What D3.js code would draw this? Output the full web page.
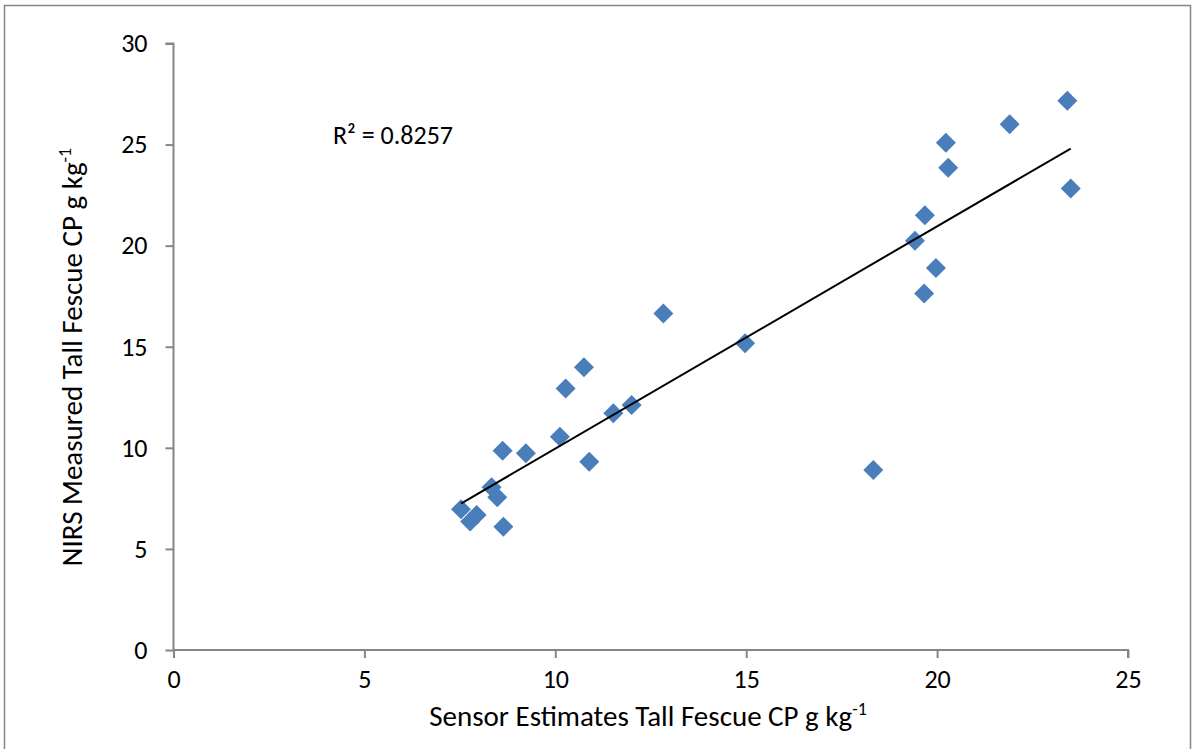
<!DOCTYPE html>
<html>
<head>
<meta charset="utf-8">
<script src="https://cdn.jsdelivr.net/npm/d3@7"></script>
<style>
  body { margin: 0; background: #fff; }
  text { font-family: Carlito, Calibri, "Liberation Sans", sans-serif; fill: #000; }
</style>
</head>
<body>
<svg width="1193" height="749"></svg>
<script>
// sensor estimates (x) and NIRS measured (y), g kg-1
var sensorCP = [7.53, 7.94, 7.77, 8.33, 8.48, 8.64, 8.62, 9.23, 10.12, 10.89, 10.27, 10.75, 11.52, 12.00,
	12.83, 14.97, 18.33, 19.42, 19.68, 19.66, 19.97, 20.23, 20.29, 21.90, 23.41, 23.50];
var nirsCP = [6.96, 6.68, 6.35, 8.05, 7.55, 6.10, 9.86, 9.73, 10.55, 9.31, 12.94, 13.98, 11.71, 12.12,
	16.65, 15.17, 8.90, 20.24, 21.50, 17.64, 18.89, 25.09, 23.85, 26.01, 27.17, 22.83];
var xTicks = [0, 5, 10, 15, 20, 25];
var yTicks = [0, 5, 10, 15, 20, 25, 30];
var r2Label = "R\u00B2 = 0.8257";

var svg = d3.select("svg"),
	width = +svg.attr("width"),
	height = +svg.attr("height");

var margin = {left: 173.5, right: 1128, top: 43.5, bottom: 650};

var x = d3.scaleLinear().domain([0, 25]).range([margin.left, margin.right]);
var y = d3.scaleLinear().domain([0, 30]).range([margin.bottom, margin.top]);

// outer frame
svg.append("rect")
	.attr("x", 4.5).attr("y", 5.5)
	.attr("width", 1186).attr("height", 760)
	.attr("fill", "none")
	.attr("stroke", "#868686")
	.attr("stroke-width", 1.5);

var axisColor = "#868686";

var xAxis = svg.append("g")
	.attr("transform", "translate(0," + margin.bottom + ")")
	.call(d3.axisBottom(x).tickValues(xTicks).tickSize(8).tickPadding(12).tickFormat(d3.format("d")));

var yAxis = svg.append("g")
	.attr("transform", "translate(" + margin.left + ",0)")
	.call(d3.axisLeft(y).tickValues(yTicks).tickSize(8).tickPadding(18).tickFormat(d3.format("d")));

[xAxis, yAxis].forEach(function (g) {
	g.select(".domain").attr("stroke", axisColor).attr("stroke-width", 2);
	g.selectAll(".tick line").attr("stroke", axisColor).attr("stroke-width", 2);
	g.selectAll(".tick text").style("font-size", "26px").attr("fill", "#000");
});
// excel draws the axis lines without end caps
xAxis.select(".domain").attr("d", "M" + margin.left + ",0H" + margin.right + "V8");
yAxis.select(".domain").attr("d", "M-8," + margin.top + "H0V" + margin.bottom);

// trend line (least squares)
var n = sensorCP.length,
	mx = d3.mean(sensorCP),
	my = d3.mean(nirsCP);
var sxy = 0, sxx = 0;
for (var i = 0; i < n; i++) {
	sxy += (sensorCP[i] - mx) * (nirsCP[i] - my);
	sxx += (sensorCP[i] - mx) * (sensorCP[i] - mx);
}
var slope = sxy / sxx,
	intercept = my - slope * mx;
var xmin = d3.min(sensorCP), xmax = d3.max(sensorCP);

var points = sensorCP.map(function (d, i) { return {x: d, y: nirsCP[i]}; });

var diamond = d3.symbol().type(d3.symbolSquare).size(200);

svg.append("g")
	.selectAll("path")
	.data(points)
	.enter().append("path")
	.attr("d", diamond)
	.attr("transform", function (d) {
		return "translate(" + x(d.x) + "," + y(d.y) + ") rotate(45)";
	})
	.attr("fill", "#4a7ebb");

svg.append("line")
	.attr("x1", x(xmin)).attr("y1", y(slope * xmin + intercept))
	.attr("x2", x(xmax)).attr("y2", y(slope * xmax + intercept))
	.attr("stroke", "#000")
	.attr("stroke-width", 2);

svg.append("text")
	.attr("x", 333).attr("y", 144)
	.style("font-size", "26px")
	.text(r2Label);

// axis titles
var xt = svg.append("text")
	.attr("x", 648).attr("y", 726)
	.attr("text-anchor", "middle")
	.style("font-size", "29px");
xt.append("tspan").text("Sensor Estimates Tall Fescue CP g kg");
xt.append("tspan").attr("dy", -11).style("font-size", "18px").text("-1");

var yt = svg.append("text")
	.attr("transform", "translate(82,357) rotate(-90)")
	.attr("text-anchor", "middle")
	.style("font-size", "29px");
yt.append("tspan").text("NIRS Measured Tall Fescue CP g kg");
yt.append("tspan").attr("dy", -11).style("font-size", "18px").text("-1");
</script>
</body>
</html>
